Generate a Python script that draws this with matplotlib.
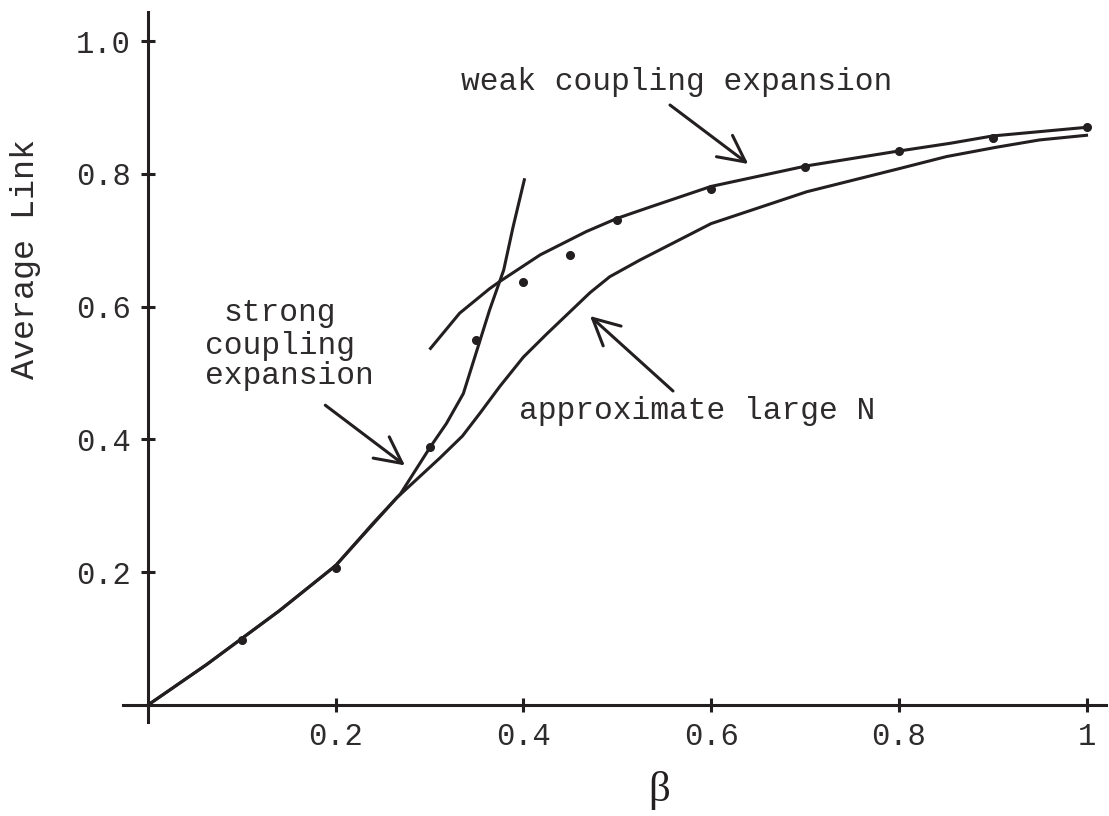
import numpy as np
import matplotlib
matplotlib.use("Agg")
import matplotlib.pyplot as plt

# values
mc_beta = [0.1, 0.2, 0.3, 0.35, 0.4, 0.45, 0.5, 0.6, 0.7, 0.8, 0.9, 1.0]
mc_link = [0.098, 0.206, 0.389, 0.549, 0.637, 0.678, 0.730, 0.777, 0.810, 0.834, 0.854, 0.870]

strong_beta = [0, 0.0625, 0.14, 0.2, 0.24, 0.269, 0.301, 0.318, 0.336, 0.354, 0.364, 0.379, 0.389, 0.401]
strong_link = [0, 0.061, 0.142, 0.21, 0.274, 0.318, 0.389, 0.424, 0.469, 0.55, 0.595, 0.655, 0.72, 0.791]

weak_beta = [0.301, 0.332, 0.364, 0.375, 0.418, 0.467, 0.5, 0.535, 0.6, 0.702, 0.794, 0.855, 0.9, 1.0]
weak_link = [0.537, 0.590, 0.627, 0.638, 0.678, 0.713, 0.733, 0.750, 0.781, 0.812, 0.833, 0.846, 0.857, 0.870]

largeN_beta = [0, 0.0625, 0.14, 0.2, 0.265, 0.311, 0.335, 0.354, 0.375, 0.4, 0.425, 0.471, 0.492, 0.524,
               0.6, 0.702, 0.801, 0.851, 0.904, 0.95, 1.0]
largeN_link = [0, 0.061, 0.142, 0.21, 0.312, 0.372, 0.405, 0.44, 0.48, 0.524, 0.559, 0.621, 0.645, 0.670,
               0.725, 0.773, 0.808, 0.826, 0.840, 0.851, 0.858]

xticks = [0.2, 0.4, 0.6, 0.8, 1.0]
xtick_labels = ["0.2", "0.4", "0.6", "0.8", "1"]
yticks = [0.2, 0.4, 0.6, 0.8, 1.0]
ytick_labels = ["0.2", "0.4", "0.6", "0.8", "1.0"]

INK = "#231f20"
TXT = "#2e2b2c"
MONO = "Liberation Mono"
LW = 2.2

fig = plt.figure(figsize=(11.09, 8.16), dpi=100)
ax = fig.add_axes([123 / 1109, 1 - 722 / 816, (1106 - 123) / 1109, (722 - 12) / 816])

ax.set_xlim(-25 / 938.5, (1106 - 148) / 938.5)
ax.set_ylim(-17 / 664, 693 / 664)

for side in ["top", "right"]:
    ax.spines[side].set_visible(False)
for side in ["left", "bottom"]:
    ax.spines[side].set_position(("data", 0))
    ax.spines[side].set_linewidth(LW)
    ax.spines[side].set_color(INK)

ax.set_xticks(xticks)
ax.set_xticklabels(xtick_labels)
ax.set_yticks(yticks)
ax.set_yticklabels(ytick_labels)
ax.tick_params(direction="inout", length=10, width=LW, pad=7.5, labelsize=22,
               color=INK, labelcolor=TXT)
for lab in ax.get_xticklabels() + ax.get_yticklabels():
    lab.set_family(MONO)

# curves
ax.plot(strong_beta, strong_link, color=INK, lw=LW, solid_joinstyle="round")
ax.plot(weak_beta, weak_link, color=INK, lw=LW, solid_joinstyle="round")
ax.plot(largeN_beta, largeN_link, color=INK, lw=LW, solid_joinstyle="round")
ax.plot(mc_beta, mc_link, "o", color=INK, ms=5.5)

# annotations
txt = dict(family=MONO, fontsize=22.5, color=TXT, va="baseline", ha="left")
ax.text(0.3335, 0.926, "weak coupling expansion", **txt)
ax.text(0.3953, 0.4307, "approximate large N", **txt)
ax.text(0.0806, 0.5783, "strong", **txt)
ax.text(0.0607, 0.5292, "coupling", **txt)
ax.text(0.0607, 0.4834, "expansion", **txt)

arrow = dict(arrowstyle="->,head_length=0.95,head_width=0.48", lw=LW, color=INK,
             shrinkA=0, shrinkB=0, mutation_scale=20)
ax.annotate("", xy=(0.6396, 0.8148), xytext=(0.5562, 0.9036), arrowprops=arrow)
ax.annotate("", xy=(0.471, 0.5858), xytext=(0.5594, 0.4729), arrowprops=arrow)
ax.annotate("", xy=(0.2738, 0.3608), xytext=(0.1889, 0.4515), arrowprops=arrow)

# axis labels
fig.text(26 / 1109, 1 - 259 / 816, "Average Link", rotation=90, ha="center", va="center",
         fontsize=24, family=MONO, color=TXT)
fig.text(659 / 1109, 1 - 791 / 816, "β", ha="center", va="center",
         fontsize=31, family="Liberation Serif", color=INK)

fig.savefig("out.png", dpi=100)
